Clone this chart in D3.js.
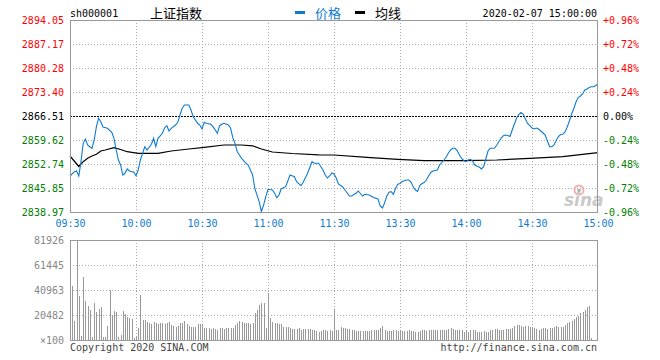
<!DOCTYPE html>
<html><head><meta charset="utf-8">
<script src="https://cdn.jsdelivr.net/npm/d3@7/dist/d3.min.js"></script>
<style>
body{margin:0;background:#fff;}
svg{display:block;}
text{font-family:"DejaVu Sans Mono","Liberation Mono",monospace;font-size:10px;}
.cjk{font-family:"Noto Sans CJK SC",sans-serif;font-size:13px;}
</style></head><body>
<svg id="c" width="660" height="360"></svg>
<script>
// ---------- data ----------
const symbol = "sh000001";
const title = "上证指数";
const legendNames = ["价格", "均线"];
const stamp = "2020-02-07 15:00:00";
const prevClose = 2866.51;
const pctTickValues = [0.96, 0.72, 0.48, 0.24, 0, -0.24, -0.48, -0.72, -0.96];
const priceTickLabels = ["2894.05","2887.17","2880.28","2873.40","2866.51","2859.62","2852.74","2845.85","2838.97"];
const pctTickLabels = ["+0.96%","+0.72%","+0.48%","+0.24%","0.00%","-0.24%","-0.48%","-0.72%","-0.96%"];
const timeTickMinutes = [0, 30, 60, 90, 120, 150, 180, 210, 240];
const timeTickLabels = ["09:30","10:00","10:30","11:00","11:30","13:30","14:00","14:30","15:00"];
const volTickValues = [81926, 61445, 40963, 20482, 0];
const volTickLabels = ["81926","61445","40963","20482","×100"];

// price: % change vs previous close, at minute index since 09:30 (trading minutes)
const priceMinutes = [0,2,3,4,5,6,7,8,9,10,11,12,13,14,15,17,19,20,21,22,23,24,25,26,27,29,30,31,32,34,35,37,38,39,40,42,43,44,45,46,48,49,50,51,52,54,55,56,58,59,60,61,62,64,65,67,68,69,70,72,73,74,75,76,77,78,80,81,83,84,86,87,88,89,90,92,93,94,95,96,98,99,100,102,103,105,106,108,110,111,113,115,116,117,118,119,120,121,122,124,125,127,128,130,131,133,134,136,138,140,141,142,143,144,145,146,147,148,149,150,151,153,154,155,156,157,158,159,160,161,162,163,164,165,166,167,168,170,171,172,173,174,175,176,177,178,179,180,181,182,183,184,185,186,187,188,189,190,191,192,193,194,195,196,197,198,199,200,201,202,203,204,205,206,207,208,209,210,211,212,213,214,215,216,217,218,219,220,221,222,223,224,225,226,227,228,229,230,231,232,233,234,235,236,237,238,239,240];
const priceChg = [-0.600,-0.557,-0.550,-0.600,-0.457,-0.273,-0.230,-0.290,-0.307,-0.323,-0.240,-0.107,-0.023,-0.057,-0.110,-0.123,-0.163,-0.223,-0.340,-0.440,-0.490,-0.590,-0.573,-0.530,-0.550,-0.563,-0.597,-0.540,-0.440,-0.307,-0.340,-0.283,-0.223,-0.307,-0.223,-0.173,-0.117,-0.097,-0.150,-0.123,-0.090,-0.063,0.010,0.077,0.110,0.110,0.060,-0.007,-0.073,-0.090,-0.130,-0.063,-0.073,-0.083,-0.107,-0.173,-0.097,-0.083,-0.073,-0.090,-0.123,-0.217,-0.273,-0.357,-0.390,-0.423,-0.473,-0.490,-0.590,-0.723,-0.857,-0.957,-0.890,-0.807,-0.733,-0.740,-0.773,-0.817,-0.790,-0.730,-0.707,-0.650,-0.590,-0.607,-0.657,-0.697,-0.663,-0.573,-0.457,-0.473,-0.473,-0.540,-0.590,-0.620,-0.600,-0.570,-0.580,-0.620,-0.680,-0.710,-0.740,-0.800,-0.800,-0.773,-0.750,-0.800,-0.783,-0.790,-0.815,-0.830,-0.900,-0.920,-0.870,-0.800,-0.763,-0.757,-0.783,-0.723,-0.683,-0.675,-0.655,-0.640,-0.640,-0.660,-0.707,-0.740,-0.755,-0.695,-0.675,-0.665,-0.640,-0.600,-0.565,-0.550,-0.545,-0.540,-0.490,-0.440,-0.410,-0.370,-0.340,-0.323,-0.323,-0.345,-0.390,-0.425,-0.445,-0.457,-0.440,-0.433,-0.450,-0.490,-0.503,-0.510,-0.530,-0.510,-0.430,-0.350,-0.323,-0.323,-0.320,-0.290,-0.255,-0.220,-0.197,-0.190,-0.195,-0.205,-0.140,-0.080,-0.020,0.015,0.035,0.020,-0.030,-0.075,-0.097,-0.120,-0.130,-0.120,-0.130,-0.150,-0.170,-0.190,-0.250,-0.307,-0.307,-0.290,-0.245,-0.205,-0.185,-0.183,-0.160,-0.110,-0.050,0.020,0.075,0.140,0.185,0.200,0.220,0.260,0.270,0.285,0.293,0.293,0.305,0.320];

// average line: % change vs previous close
const avgMinutes = [0,4,6,8,10,12,14,16,20,23,26,31,40,46,54,61,70,78,83,87,92,101,113,120,135,149,161,179,194,209,224,233,240];
const avgChg = [-0.400,-0.505,-0.457,-0.423,-0.400,-0.383,-0.350,-0.340,-0.317,-0.335,-0.357,-0.373,-0.373,-0.350,-0.330,-0.313,-0.290,-0.290,-0.298,-0.330,-0.360,-0.375,-0.388,-0.390,-0.413,-0.433,-0.447,-0.447,-0.440,-0.423,-0.407,-0.383,-0.367];

// volume (x100), one bar per minute
const volume = [
79700,44200,15800,81926,36000,3300,51900,32200,27900,24600,
2700,30600,23200,25600,27300,2200,2700,11500,41000,20500,
23800,23200,2700,4100,23800,21300,19100,17800,17200,1400,
2200,10100,36900,16400,16400,15000,13700,13100,15000,14200,
13100,13700,13700,12800,13700,15000,12300,11700,10900,11700,
13700,13700,15600,12800,11700,10900,10900,10900,12800,13100,
13100,9600,9600,9600,9000,9600,9000,8200,9600,9600,
8700,9600,10100,9600,10100,12300,14200,15800,15000,13700,
13700,13700,13100,13700,21800,24600,28700,30600,30600,10100,
38800,17800,15000,14200,13700,12800,12800,10900,10900,10400,
9600,9000,9000,8700,9600,8200,9000,9000,9000,8700,
8200,8200,7400,6800,7600,8200,8200,7600,8200,7600,
24600,8200,8200,10900,9600,9800,9300,8700,8200,8200,
7600,7600,7600,7600,7600,7600,7600,8200,8200,8200,
8200,10100,11500,8200,7400,7400,7600,8200,8200,7600,
8200,7600,7600,7400,8200,7600,7400,6600,6800,7400,
8200,8200,7400,8200,8200,8200,8200,8200,8200,8200,
8200,8200,8700,10100,9300,8200,8200,8200,8200,6800,
8200,6800,8200,8200,8200,6800,6800,6800,7400,6800,
6800,8200,8200,9000,9000,8200,8200,8200,9000,9000,
9000,9600,11500,12300,12300,11500,10900,11500,11500,10900,
10100,9600,9000,8200,9000,9600,9600,9000,9600,10100,
10900,11700,10400,10400,10900,12300,13700,15000,15800,16900,
18600,19900,21800,23200,24600,27300,27900,1400,0,0,
0];

// ---------- layout ----------
const svg = d3.select("#c");
const L = 70, R = 598, PT = 20, PB = 212, VT = 240, VB = 340;
const BLUE = "#0f7bd0", RED = "#ff0000", GREEN = "#008000", GRID = "#aaaaaa", FRAME = "#999999";

const x = d3.scaleLinear().domain([0, 240]).range([L, R]);
const y = d3.scaleLinear().domain([-0.96, 0.96]).range([PB, PT]);
const vy = d3.scaleLinear().domain([0, 81926]).range([VB, VT]);

const colorFor = v => v > 0 ? RED : (v < 0 ? GREEN : "#000");

// grid: price panel
const g = svg.append("g");
pctTickValues.filter(v => v !== 0.96 && v !== -0.96 && v !== 0).forEach(v => {
  g.append("line").attr("x1", L).attr("x2", R).attr("y1", Math.round(y(v)) + 0.5).attr("y2", Math.round(y(v)) + 0.5)
    .attr("stroke", GRID).attr("stroke-dasharray", "1,2");
});
timeTickMinutes.slice(1, -1).forEach(m => {
  const xx = Math.round(x(m)) + 0.5;
  g.append("line").attr("x1", xx).attr("x2", xx).attr("y1", PT).attr("y2", PB).attr("stroke", GRID).attr("stroke-dasharray", "1,2");
  g.append("line").attr("x1", xx).attr("x2", xx).attr("y1", VT).attr("y2", VB).attr("stroke", GRID).attr("stroke-dasharray", "1,2");
});
// grid: volume panel
volTickValues.slice(1, -1).forEach(v => {
  g.append("line").attr("x1", L).attr("x2", R).attr("y1", Math.round(vy(v)) + 0.5).attr("y2", Math.round(vy(v)) + 0.5)
    .attr("stroke", GRID).attr("stroke-dasharray", "1,2");
});
// previous close dashed line
g.append("line").attr("x1", L).attr("x2", R).attr("y1", Math.round(y(0)) + 0.5).attr("y2", Math.round(y(0)) + 0.5)
  .attr("stroke", "#000").attr("stroke-dasharray", "2,1");

// sina watermark
const wm = svg.append("g").attr("opacity", 0.9);
wm.append("circle").attr("cx", 579).attr("cy", 190).attr("r", 4.5).attr("fill", "none").attr("stroke", "#f2a8a8").attr("stroke-width", 2);
wm.append("circle").attr("cx", 579).attr("cy", 190.5).attr("r", 1.8).attr("fill", "#aaa");
wm.append("text").attr("x", 564).attr("y", 206).text("sina")
  .style("font-family", "'DejaVu Sans',sans-serif").style("font-size", "17px").style("font-weight", "bold").style("font-style", "italic")
  .attr("fill", "#c4c4c4");

// volume bars
svg.append("g").selectAll("rect").data(volume).join("rect")
  .attr("x", (d, i) => Math.round(x(i)))
  .attr("width", 1)
  .attr("y", d => Math.round(vy(d)))
  .attr("height", d => VB - Math.round(vy(d)))
  .attr("fill", "#999");

// avg line
const avgData = avgMinutes.map((m, i) => [m, avgChg[i]]);
svg.append("path").datum(avgData)
  .attr("d", d3.line().x(d => x(d[0])).y(d => y(d[1])))
  .attr("fill", "none").attr("stroke", "#000").attr("stroke-width", 1.2);

// price line
const priceData = priceMinutes.map((m, i) => [m, priceChg[i]]);
svg.append("path").datum(priceData)
  .attr("d", d3.line().x(d => x(d[0])).y(d => y(d[1])))
  .attr("fill", "none").attr("stroke", BLUE).attr("stroke-width", 1.1);

// frames
svg.append("rect").attr("x", L + 0.5).attr("y", PT + 0.5).attr("width", R - L - 1).attr("height", PB - PT)
  .attr("fill", "none").attr("stroke", FRAME);
svg.append("rect").attr("x", L + 0.5).attr("y", VT + 0.5).attr("width", R - L - 1).attr("height", VB - VT)
  .attr("fill", "none").attr("stroke", FRAME);

// axes
const axL = svg.append("g").attr("transform", `translate(${L},0)`)
  .call(d3.axisLeft(y).tickValues(pctTickValues).tickFormat((d, i) => priceTickLabels[i]).tickSize(0).tickPadding(6));
axL.select(".domain").remove();
axL.selectAll("text").attr("fill", d => colorFor(d)).style("font-family", "'DejaVu Sans Mono',monospace").style("font-size", "10px");

const axR = svg.append("g").attr("transform", `translate(${R},0)`)
  .call(d3.axisRight(y).tickValues(pctTickValues).tickFormat((d, i) => pctTickLabels[i]).tickSize(0).tickPadding(5));
axR.select(".domain").remove();
axR.selectAll("text").attr("fill", d => colorFor(d)).style("font-family", "'DejaVu Sans Mono',monospace").style("font-size", "10px");

const axB = svg.append("g").attr("transform", `translate(0,${PB})`)
  .call(d3.axisBottom(x).tickValues(timeTickMinutes).tickFormat((d, i) => timeTickLabels[i]).tickSize(0).tickPadding(8));
axB.select(".domain").remove();
axB.selectAll("text").attr("fill", BLUE).style("font-family", "'DejaVu Sans Mono',monospace").style("font-size", "10px");

const axV = svg.append("g").attr("transform", `translate(${L},0)`)
  .call(d3.axisLeft(vy).tickValues(volTickValues).tickFormat((d, i) => volTickLabels[i]).tickSize(0).tickPadding(6));
axV.select(".domain").remove();
axV.selectAll("text").attr("fill", "#888").style("font-family", "'DejaVu Sans Mono',monospace").style("font-size", "10px");

// header
svg.append("text").attr("x", 70).attr("y", 17).attr("fill", "#000").text(symbol);
svg.append("text").attr("class", "cjk").attr("x", 150).attr("y", 17.5).attr("fill", "#000").text(title);
svg.append("rect").attr("x", 295).attr("y", 11).attr("width", 10).attr("height", 3).attr("fill", BLUE);
svg.append("text").attr("class", "cjk").attr("x", 315).attr("y", 17.5).attr("fill", BLUE).text(legendNames[0]);
svg.append("rect").attr("x", 355).attr("y", 11).attr("width", 10).attr("height", 3).attr("fill", "#000");
svg.append("text").attr("class", "cjk").attr("x", 375).attr("y", 17.5).attr("fill", "#000").text(legendNames[1]);
svg.append("text").attr("x", 597).attr("y", 17).attr("text-anchor", "end").attr("fill", "#000").text(stamp);

// footer
svg.append("text").attr("x", 70).attr("y", 351).attr("fill", "#444").text("Copyright 2020 SINA.COM");
svg.append("text").attr("x", 597).attr("y", 351).attr("text-anchor", "end").attr("fill", "#444").text("http://finance.sina.com.cn");
</script>
</body></html>
